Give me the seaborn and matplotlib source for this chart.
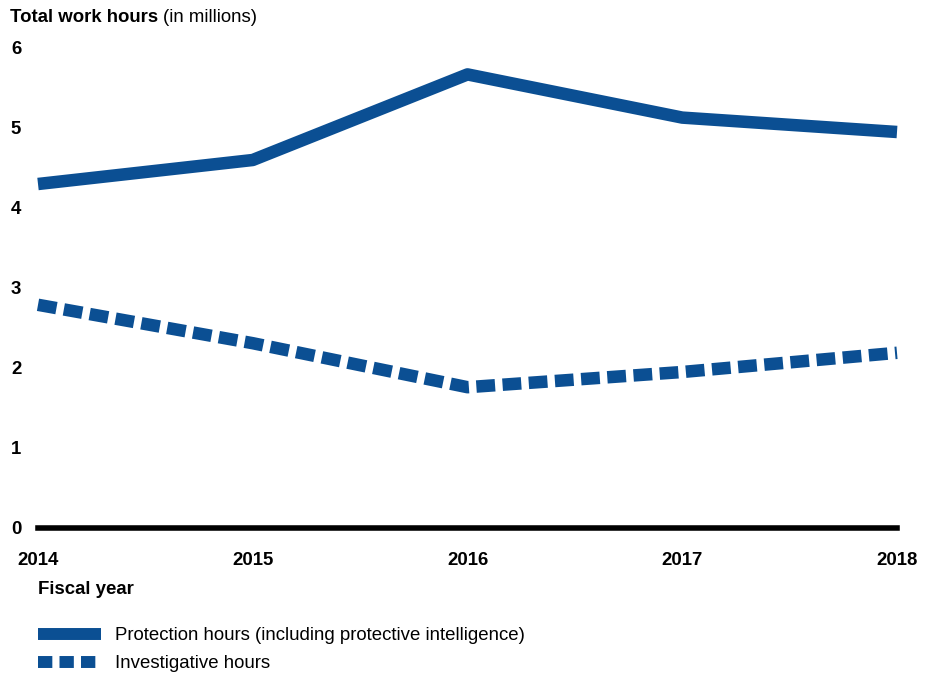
import pandas as pd
import seaborn as sns
import matplotlib.pyplot as plt
from matplotlib.lines import Line2D

years = [2014, 2015, 2016, 2017, 2018]
protection = [4.30, 4.60, 5.67, 5.13, 4.95]
investigative = [2.79, 2.31, 1.76, 1.95, 2.19]
series_names = ["Protection hours (including protective intelligence)", "Investigative hours"]

blue = "#0b4f93"

df = pd.DataFrame({
    "year": years * 2,
    "hours": protection + investigative,
    "series": [series_names[0]] * 5 + [series_names[1]] * 5,
})

sns.set_theme(style="white")
plt.rcParams['font.family'] = ['Liberation Sans', 'DejaVu Sans']
plt.rcParams['text.color'] = 'black'

fs = 13.4

fig = plt.figure(figsize=(9.31, 6.75), dpi=100)
ax = fig.add_axes([38 / 931, 1 - 528 / 675, (897 - 38) / 931, (528 - 48) / 675])

sns.lineplot(data=df, x="year", y="hours", hue="series", style="series",
             palette=[blue, blue], dashes={series_names[0]: "", series_names[1]: (1.5, 0.6)},
             linewidth=9, legend=False, ax=ax)
for ln in ax.lines:
    ln.set_solid_capstyle("butt")
    ln.set_dash_capstyle("butt")
    ln.set_clip_on(False)

ax.set_xlim(2014, 2018)
ax.set_ylim(0, 6)
ax.set_xticks(years)
ax.set_yticks(range(0, 7))
ax.set_xlabel("")
ax.set_ylabel("")
for s in ["top", "right", "left"]:
    ax.spines[s].set_visible(False)
ax.spines["bottom"].set_linewidth(4)
ax.spines["bottom"].set_color("black")
ax.tick_params(axis="both", length=0, labelsize=fs, colors="black")
ax.tick_params(axis="x", pad=17)
ax.tick_params(axis="y", pad=12)
for lab in ax.get_xticklabels() + ax.get_yticklabels():
    lab.set_fontweight("bold")
ax.patch.set_alpha(0)

t1 = fig.text(10 / 931, 1 - 17 / 675, "Total work hours", fontsize=fs, fontweight="bold", va="center")
fig.canvas.draw()
bb = t1.get_window_extent()
fig.text((bb.x1 + 5) / 931, 1 - 17 / 675, "(in millions)", fontsize=fs, va="center")
fig.text(38 / 931, 1 - 590 / 675, "Fiscal year", fontsize=fs, fontweight="bold", va="center")

handles = [
    Line2D([], [], color=blue, linewidth=8.6, solid_capstyle="butt"),
    Line2D([], [], color=blue, linewidth=8.6, dashes=(1.2, 0.6), dash_capstyle="butt"),
]
fig.legend(handles, series_names, loc="upper left", bbox_to_anchor=(38 / 931, 1 - 627 / 675),
           frameon=False, fontsize=fs, handlelength=3.4, handletextpad=0.75, labelspacing=0.6,
           borderaxespad=0, borderpad=0)

fig.savefig("out.png", dpi=100)
